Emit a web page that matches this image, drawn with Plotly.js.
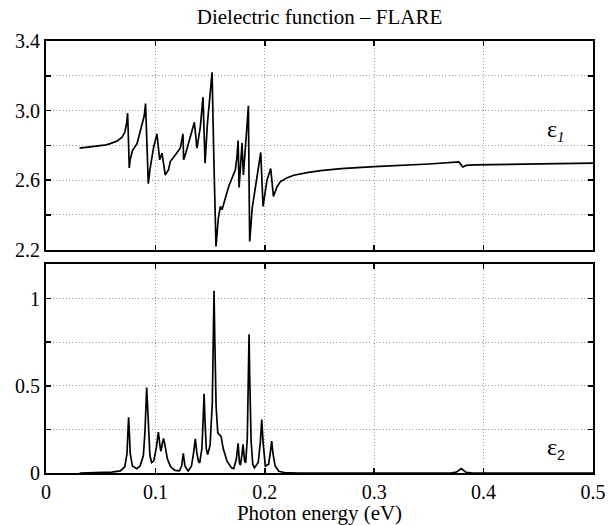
<!DOCTYPE html>
<html>
<head>
<meta charset="utf-8">
<script src="https://cdn.plot.ly/plotly-3.0.1.min.js"></script>
<style>html,body{margin:0;padding:0;background:#fff;}</style>
</head>
<body>
<div id="chart" style="width:609px;height:525px;"></div>
<script>
const e1Energy = [0.0307,0.045,0.055,0.0587,0.065,0.0694,0.072,0.0738,0.0746,0.0752,0.0761,0.077,0.079,0.0832,0.0877,0.0898,0.091,0.0918,0.0935,0.095,0.0984,0.1014,0.1025,0.1039,0.106,0.1075,0.109,0.112,0.1136,0.117,0.1228,0.1252,0.1258,0.128,0.1319,0.1356,0.138,0.1411,0.1435,0.1454,0.1475,0.1487,0.1518,0.1535,0.1554,0.1575,0.1594,0.1609,0.167,0.1731,0.1745,0.1756,0.1765,0.1792,0.1804,0.183,0.185,0.1856,0.1862,0.1885,0.1914,0.1945,0.1963,0.1984,0.202,0.2054,0.2079,0.211,0.2143,0.22,0.2265,0.24,0.251,0.27,0.30,0.35,0.376,0.3775,0.381,0.384,0.391,0.45,0.5];
const e1Value  = [2.784,2.793,2.803,2.81,2.825,2.845,2.875,2.93,2.985,2.87,2.67,2.72,2.77,2.81,2.91,2.97,3.04,2.85,2.58,2.66,2.79,2.866,2.80,2.717,2.755,2.70,2.63,2.66,2.707,2.735,2.785,2.866,2.717,2.76,2.85,2.933,2.784,2.908,3.077,2.698,2.92,3.004,3.22,2.70,2.219,2.38,2.449,2.43,2.564,2.66,2.73,2.828,2.558,2.813,2.63,2.85,3.027,2.60,2.248,2.44,2.564,2.69,2.759,2.449,2.60,2.667,2.506,2.56,2.592,2.612,2.628,2.645,2.655,2.666,2.678,2.693,2.703,2.705,2.676,2.685,2.688,2.694,2.698];

// epsilon_2 (imaginary part)
const e2Energy = [0.0307,0.060,0.068,0.072,0.074,0.075,0.0755,0.076,0.077,0.079,0.083,0.086,0.089,0.0905,0.0915,0.092,0.0925,0.0935,0.095,0.0965,0.0985,0.101,0.1027,0.1045,0.1051,0.1065,0.1075,0.109,0.111,0.114,0.118,0.122,0.124,0.1255,0.127,0.130,0.133,0.135,0.1365,0.138,0.1395,0.1405,0.1425,0.1438,0.1445,0.1452,0.1465,0.1478,0.150,0.152,0.153,0.1536,0.1542,0.1555,0.157,0.1585,0.160,0.162,0.1655,0.1695,0.1716,0.174,0.1756,0.1768,0.1777,0.179,0.1801,0.1815,0.1825,0.184,0.185,0.1856,0.1862,0.1875,0.189,0.1905,0.194,0.196,0.1972,0.1985,0.2005,0.2035,0.2053,0.2063,0.2075,0.2095,0.2127,0.218,0.23,0.37,0.375,0.3785,0.3796,0.3807,0.384,0.39,0.5];
const e2Value  = [0.0,0.005,0.012,0.035,0.11,0.26,0.32,0.26,0.11,0.04,0.025,0.04,0.10,0.24,0.43,0.49,0.43,0.25,0.10,0.06,0.07,0.15,0.235,0.14,0.125,0.175,0.198,0.15,0.08,0.035,0.015,0.012,0.04,0.112,0.04,0.012,0.04,0.12,0.196,0.11,0.065,0.058,0.14,0.33,0.455,0.32,0.14,0.106,0.16,0.40,0.80,1.045,0.80,0.38,0.23,0.22,0.21,0.14,0.068,0.03,0.025,0.08,0.17,0.06,0.045,0.10,0.164,0.07,0.058,0.20,0.55,0.796,0.55,0.18,0.05,0.03,0.06,0.18,0.307,0.17,0.04,0.05,0.13,0.183,0.11,0.04,0.01,0.003,0.0,0.0,0.005,0.022,0.026,0.02,0.004,0.0,0.0];

const xTicks = [0,0.1,0.2,0.3,0.4,0.5];
const xTickText = ['0','0.1','0.2','0.3','0.4','0.5'];
const y1Ticks = [2.2,2.4,2.6,2.8,3.0,3.2,3.4];
const y1TickText = ['2.2',' ','2.6',' ','3.0',' ','3.4'];
const y2Ticks = [0,0.25,0.5,0.75,1.0];
const y2TickText = ['0',' ','0.5',' ','1'];

const serif = "'Liberation Serif', 'Times New Roman', serif";
const lineStyle = {color:'#000', width:1.7};

const traces = [
  {x:e1Energy, y:e1Value, type:'scatter', mode:'lines', line:lineStyle, xaxis:'x', yaxis:'y', hoverinfo:'skip'},
  {x:e2Energy, y:e2Value, type:'scatter', mode:'lines', line:lineStyle, xaxis:'x2', yaxis:'y2', hoverinfo:'skip'}
];

const axCommon = {
  showline:true, linecolor:'#000', linewidth:2, mirror:'allticks',
  ticks:'inside', ticklen:5, tickwidth:1.5, tickcolor:'#000',
  showgrid:true, gridcolor:'#999', gridwidth:1, griddash:'1px,2.3px',
  zeroline:false, tickfont:{family:serif, size:20, color:'#000'}
};

const layout = {
  width:609, height:525,
  margin:{l:46, r:16, t:41, b:51.5},
  paper_bgcolor:'#fff', plot_bgcolor:'#fff',
  showlegend:false,
  font:{family:serif, size:20, color:'#000'},
  title:{text:'Dielectric function – FLARE', font:{family:serif, size:21, color:'#000'},
         x:0.5, xref:'paper', xanchor:'center', y:1-17/525, yref:'container', yanchor:'middle'},
  xaxis:Object.assign({}, axCommon, {domain:[0,1], range:[0,0.5], tickvals:xTicks, ticktext:xTicks.map(()=>' '), anchor:'y'}),
  yaxis:Object.assign({}, axCommon, {domain:[0.5168,1], range:[2.2,3.4], tickvals:y1Ticks, ticktext:y1TickText, anchor:'x'}),
  xaxis2:Object.assign({}, axCommon, {domain:[0,1], range:[0,0.5], tickvals:xTicks, ticktext:xTickText, anchor:'y2',
         title:{text:'Photon energy (eV)', font:{family:serif, size:21, color:'#000'}, standoff:0}}),
  yaxis2:Object.assign({}, axCommon, {domain:[0,0.4844], range:[0,1.2], tickvals:y2Ticks, ticktext:y2TickText, anchor:'x2'}),
  annotations:[
    {text:'ε<sub><i><span style="font-size:15px">1</span></i></sub>', xref:'x', yref:'y', x:0.4759, y:2.885, xanchor:'right', yanchor:'middle',
     showarrow:false, font:{family:serif, size:24, color:'#000'}},
    {text:'ε<sub><span style="font-family:Liberation Sans;font-size:14px">2</span></sub>', xref:'x2', yref:'y2', x:0.4759, y:0.14, xanchor:'right', yanchor:'middle',
     showarrow:false, font:{family:serif, size:24, color:'#000'}}
  ]
};

Plotly.newPlot('chart', traces, layout, {displayModeBar:false, staticPlot:true});
</script>
</body>
</html>
